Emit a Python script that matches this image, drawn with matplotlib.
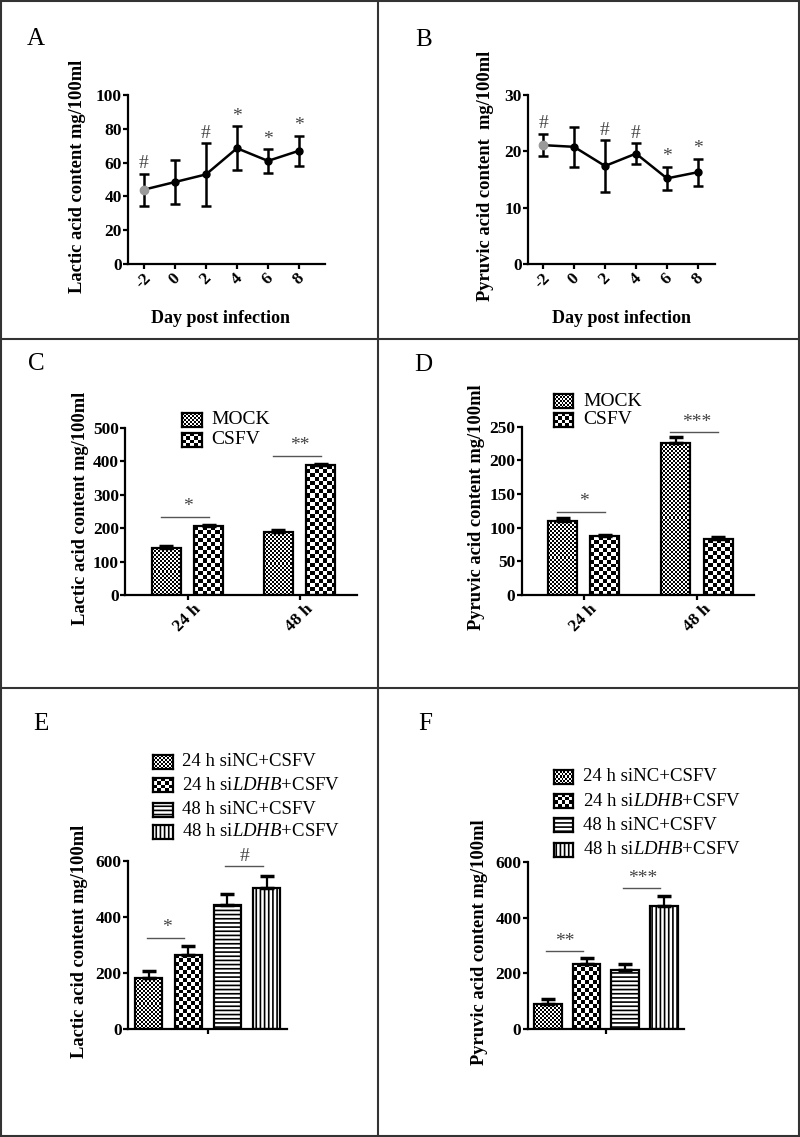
import matplotlib
matplotlib.use("Agg")
import matplotlib.pyplot as plt
import numpy as np
from matplotlib.lines import Line2D
from matplotlib.patches import Rectangle

plt.rcParams['font.family'] = ['Liberation Serif', 'DejaVu Serif']
plt.rcParams['mathtext.fontset'] = 'custom'
plt.rcParams['mathtext.rm'] = 'Liberation Serif'
plt.rcParams['mathtext.it'] = 'Liberation Serif:italic'
plt.rcParams['hatch.linewidth'] = 1.2
plt.rcParams['axes.unicode_minus'] = False

# data
days = [-2, 0, 2, 4, 6, 8]
lactic_mean = [44, 48.5, 53, 68.5, 61, 67]
lactic_err = [9.5, 13, 18.5, 13, 7, 9]
lactic_sig = ['#', '', '#', '*', '*', '*']
pyruvic_mean = [21.1, 20.8, 17.4, 19.6, 15.2, 16.3]
pyruvic_err = [2, 3.5, 4.6, 1.8, 2.1, 2.4]
pyruvic_sig = ['#', '', '#', '#', '*', '*']

times = ['24 h', '48 h']
cd_groups = ['MOCK', 'CSFV']
c_mock = [140, 188]
c_mock_err = [5, 5]
c_csfv = [205, 388]
c_csfv_err = [5, 5]
c_sig = ['*', '**']
c_sig_level = [234, 416]
d_mock = [110, 226]
d_mock_err = [4, 9]
d_csfv = [87.5, 82.5]
d_csfv_err = [2, 3]
d_sig = ['*', '***']
d_sig_level = [124, 242]

ef_groups = ['24 h siNC+CSFV', '24 h si$\\mathit{LDHB}$+CSFV',
             '48 h siNC+CSFV', '48 h si$\\mathit{LDHB}$+CSFV']
e_mean = [181, 266, 442, 503]
e_err = [26, 31, 39, 43]
e_sig = ['*', '#']
e_sig_level = [326, 580]
f_mean = [91, 233, 212, 442]
f_err = [16, 23, 22, 36]
f_sig = ['**', '***']
f_sig_level = [280, 505]

W, H = 800, 1137
fig = plt.figure(figsize=(W / 100, H / 100), dpi=100)


def rect(l, t, r, b):
    return [l / W, 1 - b / H, (r - l) / W, (b - t) / H]


def style(ax, yticks):
    for s in ['top', 'right']:
        ax.spines[s].set_visible(False)
    for s in ['left', 'bottom']:
        ax.spines[s].set_linewidth(1.6)
    ax.set_yticks(yticks)
    ax.set_ylim(yticks[0], yticks[-1])
    ax.tick_params(width=1.6, length=3.5, pad=1, labelsize=12.5)
    for t in ax.get_yticklabels() + ax.get_xticklabels():
        t.set_fontweight('bold')


def checker(ax, patch, cell):
    bb = patch.get_window_extent()
    nx = max(1, int(round(bb.width / cell)))
    ny = max(1, int(round(bb.height / cell)))
    board = np.add.outer(np.arange(ny), np.arange(nx)) % 2
    x0, y0 = patch.get_x(), patch.get_y()
    im = ax.imshow(board, cmap='gray', vmin=0, vmax=1, origin='lower',
                   extent=(x0, x0 + patch.get_width(), y0, y0 + patch.get_height()),
                   aspect='auto', interpolation='nearest', zorder=1)
    im.set_clip_path(patch)


def swatch(l, t, r, b, kind):
    sa = fig.add_axes(rect(l, t, r, b))
    sa.set_xticks([])
    sa.set_yticks([])
    for s in sa.spines.values():
        s.set_linewidth(1.6)
    if kind in ('fine', 'coarse'):
        cell = 2 if kind == 'fine' else 4
        nx = int(round((r - l) / cell))
        ny = int(round((b - t) / cell))
        board = np.add.outer(np.arange(ny), np.arange(nx)) % 2
        sa.imshow(board, cmap='gray', vmin=0, vmax=1, extent=(0, 1, 0, 1),
                  aspect='auto', interpolation='nearest')
    else:
        sa.add_patch(Rectangle((0, 0), 1, 1, transform=sa.transAxes, facecolor='white',
                               edgecolor='black', hatch=kind, lw=0))
    sa.set_xlim(0, 1)
    sa.set_ylim(0, 1)


def line_panel(r, mean, err, sig, yticks, ylabel, xlim, lab_x):
    ax = fig.add_axes(rect(*r))
    ax.errorbar(days, mean, yerr=err, fmt='-o', color='black', ms=5, lw=1.8,
                elinewidth=1.8, capsize=3.5, capthick=1.8)
    ax.plot(days[0], mean[0], 'o', color='#9a9a9a', ms=6, zorder=5)
    for d, m, e, s in zip(days, mean, err, sig):
        if s:
            ax.annotate(s, (d, m + e), xytext=(0, 1), textcoords='offset points',
                        ha='center', va='bottom', fontsize=14, color='#444444')
    ax.set_xticks(days)
    ax.set_xlim(*xlim)
    style(ax, yticks)
    for t in ax.get_xticklabels():
        t.set_rotation(45)
        t.set_ha('center')
    ax.set_ylabel(ylabel, fontsize=13.3, fontweight='bold')
    ax.yaxis.set_label_coords(lab_x, 0.52)
    ax.set_xlabel('Day post infection', fontsize=13, fontweight='bold')
    return ax


axA = line_panel((128, 95, 325, 264), lactic_mean, lactic_err, lactic_sig,
                 [0, 20, 40, 60, 80, 100], 'Lactic acid content mg/100ml', (-3.03, 9.68), -0.213)
axA.xaxis.set_label_coords(0.47, -0.27)
axB = line_panel((528, 95, 715, 264), pyruvic_mean, pyruvic_err, pyruvic_sig,
                 [0, 10, 20, 30], 'Pyruvic acid content  mg/100ml', (-2.97, 9.1), -0.18)
axB.xaxis.set_label_coords(0.5, -0.27)


def group_panel(r, mock, mock_err, csfv, csfv_err, sig, sig_level, yticks, ylabel,
                xlim, lab_x, off, width):
    ax = fig.add_axes(rect(*r))
    x = np.arange(len(times))
    b1 = ax.bar(x - off, mock, width, facecolor='none', edgecolor='black', lw=1.6, zorder=2)
    b2 = ax.bar(x + off, csfv, width, facecolor='none', edgecolor='black', lw=1.6, zorder=2)
    ax.errorbar(x - off, mock, yerr=[np.zeros(len(x)), mock_err], fmt='none',
                ecolor='black', elinewidth=1.6, capsize=5, capthick=2.5, zorder=3)
    ax.errorbar(x + off, csfv, yerr=[np.zeros(len(x)), csfv_err], fmt='none',
                ecolor='black', elinewidth=1.6, capsize=5, capthick=2.5, zorder=3)
    ax.set_xlim(*xlim)
    style(ax, yticks)
    for p in b1:
        checker(ax, p, 2)
    for p in b2:
        checker(ax, p, 4)
    ax.set_xlim(*xlim)
    ax.set_ylim(yticks[0], yticks[-1])
    for xi, s, lv in zip(x, sig, sig_level):
        ax.plot([xi - off - 0.05, xi + off], [lv, lv], color='#555555', lw=1)
        ax.annotate(s, (xi, lv), xytext=(0, 1), textcoords='offset points',
                    ha='center', va='bottom', fontsize=14, color='#444444')
    ax.set_xticks(x)
    ax.set_xticklabels(times, fontweight='bold', rotation=45, ha='center')
    ax.set_ylabel(ylabel, fontsize=13.3, fontweight='bold')
    ax.yaxis.set_label_coords(lab_x, 0.52)
    return ax


axC = group_panel((125, 427.7, 357, 595), c_mock, c_mock_err, c_csfv, c_csfv_err, c_sig,
                  c_sig_level, [0, 100, 200, 300, 400, 500], 'Lactic acid content mg/100ml',
                  (-0.558, 1.513), -0.155, 0.19, 0.26)
axD = group_panel((521.7, 426.7, 754, 595), d_mock, d_mock_err, d_csfv, d_csfv_err, d_sig,
                  d_sig_level, [0, 50, 100, 150, 200, 250], 'Pyruvic acid content mg/100ml',
                  (-0.547, 1.503), -0.158, 0.186, 0.256)

kinds = ['fine', 'coarse', '----', '||||']


def four_panel(r, mean, err, sig, sig_level, ylabel, xlim, lab_x, width):
    ax = fig.add_axes(rect(*r))
    x = np.arange(len(mean))
    bars = ax.bar(x, mean, width, facecolor='none', edgecolor='black', lw=1.6, zorder=2)
    for p, k in zip(bars, kinds):
        if k in ('----', '||||'):
            p.set_hatch(k)
            p.set_facecolor('white')
    ax.errorbar(x, mean, yerr=[np.zeros(len(x)), err], fmt='none', ecolor='black',
                elinewidth=1.6, capsize=5, capthick=2.5, zorder=3)
    ax.set_xlim(*xlim)
    style(ax, [0, 200, 400, 600])
    checker(ax, bars[0], 2)
    checker(ax, bars[1], 4)
    ax.set_xlim(*xlim)
    ax.set_ylim(0, 600)
    for i, (s, lv) in enumerate(zip(sig, sig_level)):
        a, b = 2 * i, 2 * i + 1
        ax.plot([a - 0.05, b - 0.1], [lv, lv], color='#555555', lw=1)
        ax.annotate(s, ((a + b) / 2 - 0.05, lv), xytext=(0, 1), textcoords='offset points',
                    ha='center', va='bottom', fontsize=14, color='#444444')
    ax.set_xticks([1.5])
    ax.set_xticklabels([''])
    ax.set_ylabel(ylabel, fontsize=13.3, fontweight='bold')
    ax.yaxis.set_label_coords(lab_x, 0.52)
    return ax


axE = four_panel((128, 860.7, 287, 1029.3), e_mean, e_err, e_sig, e_sig_level,
                 'Lactic acid content mg/100ml', (-0.53, 3.52), -0.25, 0.69)
axF = four_panel((527.7, 861.7, 684, 1029.3), f_mean, f_err, f_sig, f_sig_level,
                 'Pyruvic acid content mg/100ml', (-0.52, 3.52), -0.254, 0.71)

# legends drawn by hand so the swatches carry the same textures as the bars
for (l, r_, x_txt, ys) in [(182, 202, 211, [420, 440]), (554, 573, 583, [401, 420])]:
    for y, k, name in zip(ys, ['fine', 'coarse'], cd_groups):
        swatch(l, y - 7, r_, y + 7, k)
        fig.text(x_txt / W, 1 - y / H, name, fontsize=14, va='center', ha='left')

for (l, r_, x_txt, ys) in [(153, 173, 182, [761.7, 785, 810, 831.7]),
                           (554, 573, 583, [776.7, 801, 825, 850])]:
    for y, k, name in zip(ys, kinds, ef_groups):
        swatch(l, y - 7, r_, y + 7, k)
        fig.text(x_txt / W, 1 - y / H, name, fontsize=13.5, va='center', ha='left')

# panel letters
for letter, (x, y) in zip('ABCDEF', [(36, 39), (424, 40), (36, 364), (423, 365),
                                      (41, 724), (425, 724)]):
    fig.text(x / W, 1 - y / H, letter, fontsize=18, ha='center', va='center')

# panel frame lines
frame = [((1, 1), (799, 1)), ((1, 1136), (799, 1136)), ((1, 1), (1, 1136)),
         ((799, 1), (799, 1136)), ((378, 1), (378, 1136)), ((1, 339), (799, 339)),
         ((1, 688), (799, 688))]
for (x0, y0), (x1, y1) in frame:
    fig.add_artist(Line2D([x0 / W, x1 / W], [1 - y0 / H, 1 - y1 / H], color='#333333', lw=1.5))

plt.savefig('out.png', dpi=100)
